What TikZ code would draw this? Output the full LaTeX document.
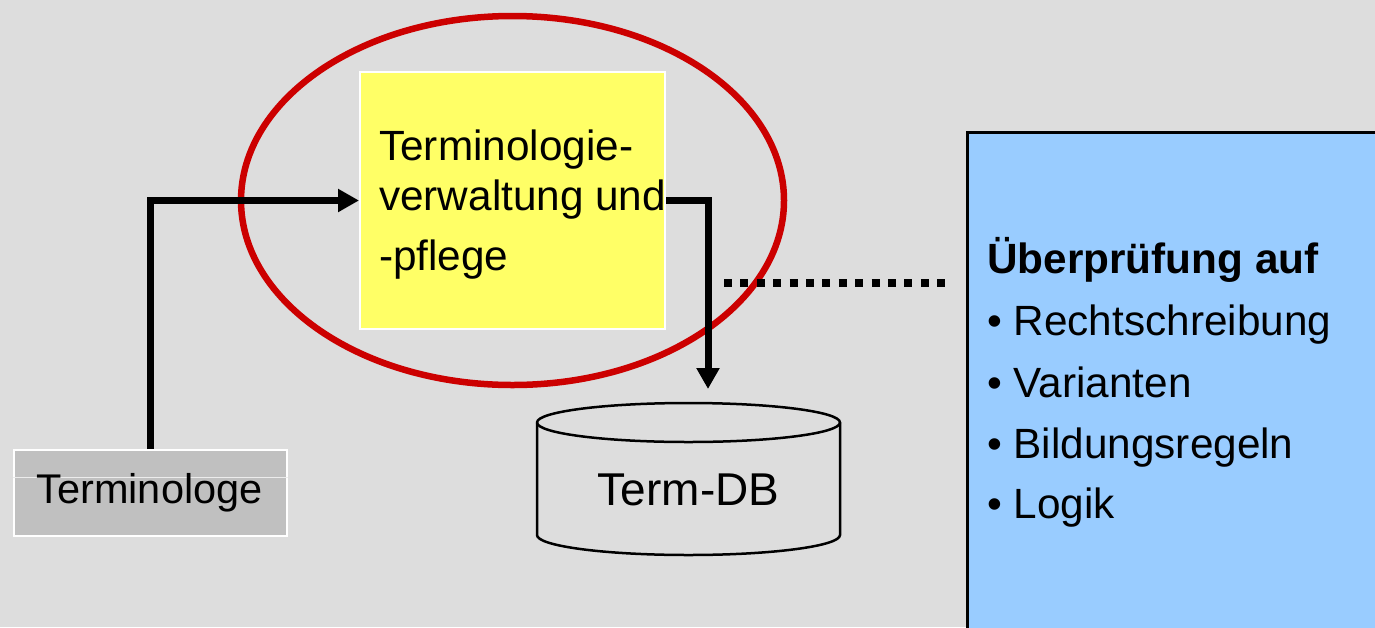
\documentclass[tikz,border=0pt]{standalone}
\usepackage{fontspec}
\setmainfont{Liberation Sans}
\usetikzlibrary{arrows.meta}
\definecolor{bg}{HTML}{DDDDDD}
\definecolor{actorgray}{HTML}{C0C0C0}
\definecolor{noteyellow}{HTML}{FFFF66}
\definecolor{checkblue}{HTML}{99CCFF}
\definecolor{ringred}{HTML}{CC0000}
\tikzset{
  x=1pt, y=-1pt,
  txt/.style={inner sep=0pt, anchor=base west, font=\fontsize{42.3}{50}\selectfont},
  flow/.style={line width=7pt, draw=black, -{Triangle[length=21pt,width=22pt]}},
  link/.style={line width=8pt, draw=black, dash pattern=on 8pt off 8.4pt},
  whitebox/.style={draw=white, line width=2pt, inner sep=0pt},
}
\begin{document}
\begin{tikzpicture}
  % canvas
  \fill[bg] (0,0) rectangle (1375,627);
  \useasboundingbox (0,0) rectangle (1375,627);
  \clip (0,0) rectangle (1375,627);

  % checks panel on the right
  \node[draw=black, line width=3pt, fill=checkblue, inner sep=0pt,
        anchor=north west, minimum width=430pt, minimum height=520pt]
        (checks) at (966,131) {};
  \node[txt, font=\fontsize{42.3}{50}\selectfont\bfseries] (head) at (987,273) {Überprüfung auf};
  \node[txt] (b1) at (987,335) {• Rechtschreibung};
  \node[txt] (b2) at (987,397) {• Varianten};
  \node[txt] (b3) at (987,458) {• Bildungsregeln};
  \node[txt] (b4) at (987,518) {• Logik};

  % terminology management box
  \node[whitebox, fill=noteyellow, anchor=north west,
        minimum width=305pt, minimum height=257pt] (mgmt) at (359,71) {};
  \node[txt] (m1) at (379,160) {Terminologie-};
  \node[txt] (m2) at (379,210) {verwaltung und};
  \node[txt] (m3) at (379,270) {-pflege};

  % terminologist
  \node[whitebox, fill=actorgray, anchor=north west,
        minimum width=273pt, minimum height=86pt] (term) at (13,449) {};
  \draw[white!70!actorgray, line width=0.8pt] (term.west |- 0,477) -- (term.east |- 0,477);
  \node[inner sep=0pt, font=\fontsize{41.5}{50}\selectfont] (termtxt) at (149.5,493) {Terminologe};

  % term database cylinder
  \node[inner sep=0pt, minimum width=303pt, minimum height=152pt, anchor=north west]
        (db) at (537,403) {};
  \draw[black, line width=2.5pt, fill=bg]
    (537,422.5) -- (537,535) arc[start angle=180, end angle=0, x radius=151.5, y radius=20]
    -- (840,422.5) arc[start angle=0, end angle=-180, x radius=151.5, y radius=19.5] -- cycle;
  \draw[black, line width=2.5pt]
    (537,422.5) arc[start angle=180, end angle=0, x radius=151.5, y radius=19.5];
  \node[inner sep=0pt, font=\fontsize{46}{50}\selectfont] (dbtxt) at (688.5,490) {Term-DB};

  % highlight ring
  \draw[ringred, line width=6.5pt] (512.5,200.5) ellipse [x radius=271.5, y radius=184.5];

  % connectors
  \coordinate (dbin) at (708,389);
  \coordinate (linkend) at (950,283);
  \draw[flow] (term.north) |- (mgmt.west);
  \draw[flow] (mgmt.east) -| (dbin);
  \draw[link] (724,283) -- (linkend);
\end{tikzpicture}
\end{document}
